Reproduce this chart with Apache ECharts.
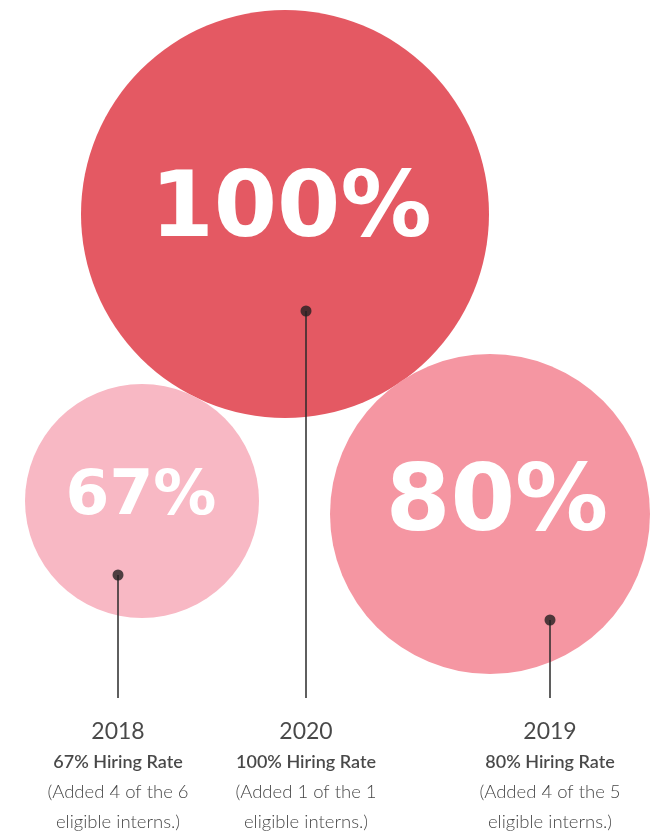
<!DOCTYPE html>
<html>
<head>
<meta charset="utf-8">
<script src="https://cdn.jsdelivr.net/npm/echarts@6/dist/echarts.min.js"></script>
<style>
html,body{margin:0;padding:0;background:#fff;}
#chart{width:660px;height:831px;}
</style>
</head>
<body>
<div id="chart"></div>
<script>
// ---- data ----
const years = ['2018', '2020', '2019'];
const rates = [67, 100, 80];
const added = [4, 1, 4];
const eligible = [6, 1, 5];

// ---- layout (pixel space of a 660x831 canvas) ----
const circleX = [142, 285, 490];
const circleY = [501, 214, 514];
const circleR = [117, 204, 160];
const numOffset = [[-1, -3], [6, -2], [7, -8]];
const numFont = [63, 91, 93];
const colors = ['#F8B8C4', '#E45963', '#F596A2'];
const stemX = [118, 306, 550];
const dotY = [575, 311, 620];
const stemEndY = 698;
const textCenterY = 777;
const drawOrder = [1, 0, 2];

const chart = echarts.init(document.getElementById('chart'));

const circleSeries = drawOrder.map((i, k) => ({
  type: 'scatter',
  z: 2 + k,
  silent: true,
  symbol: 'circle',
  symbolSize: circleR[i] * 2,
  itemStyle: { color: colors[i], opacity: 1 },
  label: {
    show: true,
    position: 'inside',
    offset: numOffset[i],
    formatter: () => rates[i] + '%',
    color: '#ffffff',
    fontFamily: 'DejaVu Sans',
    fontWeight: 'bold',
    fontSize: numFont[i]
  },
  data: [[circleX[i], circleY[i], rates[i]]]
}));

const stemSeries = years.map((y, i) => ({
  type: 'line',
  z: 10,
  silent: true,
  symbol: 'none',
  lineStyle: { color: '#2a2a2a', width: 1.5 },
  data: [[stemX[i], dotY[i]], [stemX[i], stemEndY]]
}));

const dotSeries = {
  type: 'scatter',
  z: 11,
  silent: true,
  symbolSize: 11,
  itemStyle: { color: '#231f20' },
  data: years.map((y, i) => [stemX[i], dotY[i]])
};

const textSeries = {
  type: 'scatter',
  z: 12,
  silent: true,
  symbolSize: 0,
  label: {
    show: true,
    position: 'inside',
    formatter: (p) => {
      const i = p.dataIndex;
      return '{y|' + years[i] + '}\n{r|' + rates[i] + '% Hiring Rate}\n{a|(Added ' + added[i] + ' of the ' + eligible[i] + '}\n{a|eligible interns.)}';
    },
    rich: {
      y: { fontFamily: 'Lato', fontSize: 23, color: '#1a1a1a', lineHeight: 30, align: 'center' },
      r: { fontFamily: 'Lato', fontSize: 18, fontWeight: 600, color: '#1a1a1a', lineHeight: 30, align: 'center' },
      a: { fontFamily: 'Lato', fontSize: 18.5, fontWeight: 300, color: '#111111', lineHeight: 30, align: 'center' }
    }
  },
  data: years.map((y, i) => [stemX[i], textCenterY])
};

chart.setOption({
  animation: false,
  backgroundColor: '#ffffff',
  grid: { left: 0, right: 0, top: 0, bottom: 0 },
  xAxis: { type: 'value', min: 0, max: 660, show: false },
  yAxis: { type: 'value', min: 0, max: 831, inverse: true, show: false },
  series: [...circleSeries, ...stemSeries, dotSeries, textSeries]
});
</script>
</body>
</html>
